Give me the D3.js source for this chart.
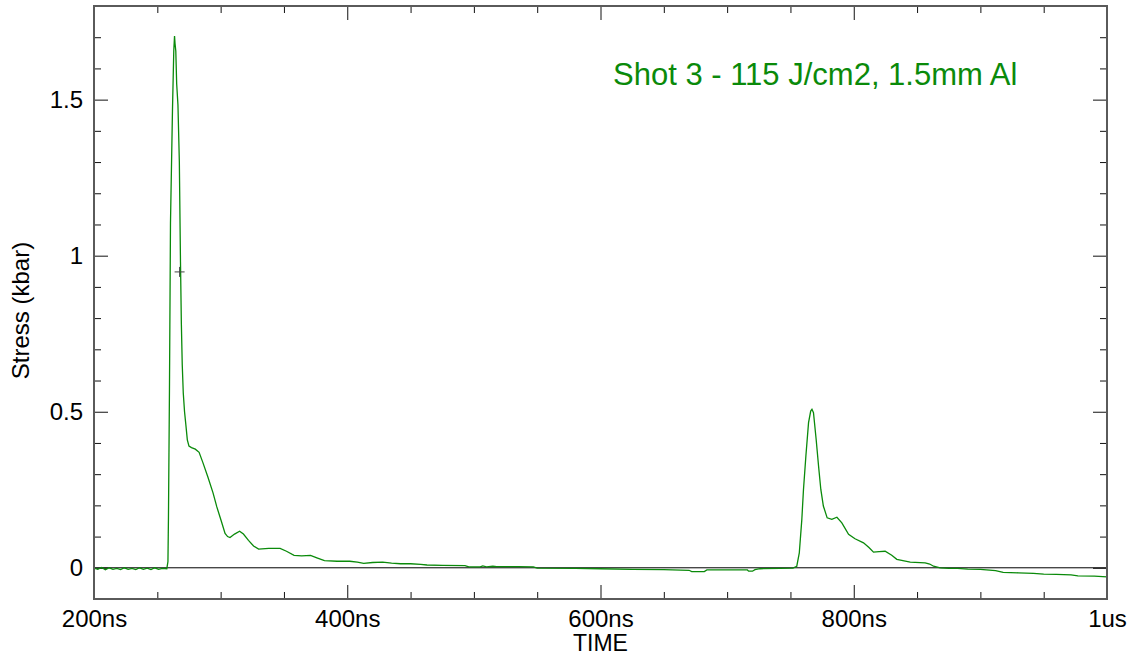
<!DOCTYPE html>
<html>
<head>
<meta charset="utf-8">
<script src="https://cdn.jsdelivr.net/npm/d3@7"></script>
<style>
  body { margin: 0; background: #fff; }
  text { font-family: "Liberation Sans", Arial, sans-serif; }
</style>
</head>
<body>
<div id="chart"></div>
<script>
// trace: time in ns, stress in kbar
var times = [200, 203, 206, 209, 212, 215, 218, 221, 224, 227, 230, 233, 236, 239, 242, 245, 248, 251, 254, 257.5,
  258.4, 258.8, 259.6, 260.4, 262, 263, 263.6, 264, 264.6, 265.3, 266.3, 267.4, 268.3,
  269, 269.7, 270.5, 271.5, 272.5, 273.7, 275, 277, 280, 283, 286, 290, 294, 297,
  300.5, 303.5, 305.5, 307.4, 311, 315, 318, 322, 326, 330, 338, 347, 352, 358,
  364, 371, 376, 382, 392, 402, 408, 413, 420, 428, 435, 442, 450, 458, 463, 475,
  493, 496, 505, 507, 510, 515, 518, 535, 547, 550, 580, 600, 625, 650, 670, 672,
  682, 684, 700, 716, 717, 720, 722, 726, 742, 752, 755, 757, 759, 760.3, 762.2,
  764.3, 766, 767, 768.2, 770.3, 772.2, 774, 776, 779, 782.7, 786.7, 790.6, 795.9,
  801, 807.7, 812, 815.6, 820, 824.8, 830, 834, 844.6, 856.4, 860, 863, 868.3, 875,
  882, 890, 900, 912, 918, 930, 942, 950, 960, 971.6, 977, 990, 1000];

var stress = [-0.001, -0.005, 0.001, -0.006, 0.000, -0.005, -0.002, -0.006, 0.000, -0.005,
  -0.002, -0.006, 0.000, -0.005, -0.001, -0.006, 0.000, -0.005, -0.002, -0.003,
  0.02, 0.161, 0.573, 1.105, 1.472, 1.656, 1.704, 1.68, 1.656, 1.55, 1.483, 1.30, 0.98,
  0.78, 0.65, 0.56, 0.50, 0.46, 0.41, 0.39, 0.385, 0.38, 0.37, 0.337, 0.29, 0.24, 0.195,
  0.15, 0.11, 0.10, 0.097, 0.108, 0.117, 0.108, 0.088, 0.07, 0.06, 0.062, 0.062, 0.053, 0.04,
  0.038, 0.04, 0.032, 0.023, 0.021, 0.021, 0.018, 0.014, 0.017, 0.018, 0.015, 0.013, 0.013, 0.011, 0.009, 0.008,
  0.007, 0.003, 0.003, 0.006, 0.003, 0.005, 0.004, 0.004, 0.003, -0.001, -0.002, -0.003, -0.005, -0.006, -0.008, -0.012,
  -0.012, -0.007, -0.007, -0.007, -0.011, -0.011, -0.006, -0.003, -0.002, -0.001, 0.005, 0.048, 0.155, 0.251, 0.358,
  0.465, 0.502, 0.508, 0.497, 0.412, 0.326, 0.251, 0.198, 0.16, 0.155, 0.162, 0.144, 0.107,
  0.093, 0.08, 0.065, 0.05, 0.052, 0.053, 0.04, 0.027, 0.018, 0.016, 0.012, 0.005, 0.0, -0.002,
  -0.002, -0.004, -0.005, -0.009, -0.015, -0.016, -0.018, -0.02, -0.021, -0.023, -0.026, -0.027, -0.029];

var xMajor = [200, 400, 600, 800, 1000];
var xLabels = ["200ns", "400ns", "600ns", "800ns", "1us"];
var yMajor = [0, 0.5, 1, 1.5];
var yLabels = ["0", "0.5", "1", "1.5"];
var title = "Shot 3 - 115 J/cm2, 1.5mm Al";
var cursorPoint = [267.6, 0.948];   // the little "+" left by the scope cursor

var margin = { top: 6, left: 94, right: 28, bottom: 56 },
    width = 1135 - margin.left - margin.right,
    height = 655 - margin.top - margin.bottom;

var svg = d3.select("#chart")
    .append("svg")
    .attr("width", width + margin.left + margin.right)
    .attr("height", height + margin.top + margin.bottom)
    .append("g")
    .attr("transform", "translate(" + margin.left + "," + margin.top + ")");

var x = d3.scaleLinear().domain([200, 1000]).range([0, width]);
var y = d3.scaleLinear().domain([-0.1, 1.8]).range([height, 0]);

var xMinor = d3.range(250, 1000, 50).filter(function(d) { return d % 200 !== 0; });
var yMinor = d3.range(0, 18).map(function(d) { return d / 10; })
    .filter(function(d) { return Math.round(d * 10) % 5 !== 0; });

function styleAxis(g) {
  g.select(".domain").remove();
  g.selectAll("line").attr("stroke", "#111").attr("stroke-width", 1);
  g.selectAll("text").attr("font-size", "24px").attr("fill", "#000")
    .attr("font-family", "'Liberation Sans', Arial, sans-serif");
}

// major + minor ticks on all four sides, pointing inward
svg.append("g").attr("transform", "translate(0," + height + ")")
    .call(d3.axisBottom(x).tickValues(xMajor).tickSize(-14).tickPadding(11)
      .tickFormat(function(d, i) { return xLabels[i]; }))
    .call(styleAxis);
svg.append("g").attr("transform", "translate(0," + height + ")")
    .call(d3.axisBottom(x).tickValues(xMinor).tickSize(-7).tickFormat(""))
    .call(styleAxis);
svg.append("g")
    .call(d3.axisTop(x).tickValues(xMajor).tickSize(-14).tickFormat(""))
    .call(styleAxis);
svg.append("g")
    .call(d3.axisTop(x).tickValues(xMinor).tickSize(-7).tickFormat(""))
    .call(styleAxis);

svg.append("g")
    .call(d3.axisLeft(y).tickValues(yMajor).tickSize(-14).tickPadding(11)
      .tickFormat(function(d, i) { return yLabels[i]; }))
    .call(styleAxis);
svg.append("g")
    .call(d3.axisLeft(y).tickValues(yMinor).tickSize(-7).tickFormat(""))
    .call(styleAxis);
svg.append("g").attr("transform", "translate(" + width + ",0)")
    .call(d3.axisRight(y).tickValues(yMajor).tickSize(-14).tickFormat(""))
    .call(styleAxis);
svg.append("g").attr("transform", "translate(" + width + ",0)")
    .call(d3.axisRight(y).tickValues(yMinor).tickSize(-7).tickFormat(""))
    .call(styleAxis);

// zero line
svg.append("line")
    .attr("x1", 0).attr("x2", width)
    .attr("y1", y(0)).attr("y2", y(0))
    .attr("stroke", "#000")
    .attr("stroke-width", 1);

var line = d3.line()
    .x(function(d, i) { return x(times[i]); })
    .y(function(d) { return y(d); });

svg.append("path")
    .datum(stress)
    .attr("d", line)
    .attr("fill", "none")
    .attr("stroke", "#0a8a0a")
    .attr("stroke-width", 1.3);

// cursor cross
var cx = x(cursorPoint[0]), cy = y(cursorPoint[1]);
svg.append("path")
    .attr("d", "M" + (cx - 5) + "," + cy + "H" + (cx + 5) + "M" + cx + "," + (cy - 5) + "V" + (cy + 5))
    .attr("stroke", "#444")
    .attr("stroke-width", 1);

// plot frame
svg.append("rect")
    .attr("x", 0).attr("y", 0)
    .attr("width", width).attr("height", height)
    .attr("fill", "none")
    .attr("stroke", "#5a5a5a")
    .attr("stroke-width", 2);

svg.append("text")
    .text(title)
    .attr("x", 519)
    .attr("y", 79)
    .attr("font-size", "31px")
    .attr("fill", "#0a8a0a");

svg.append("text")
    .text("TIME")
    .attr("x", width / 2)
    .attr("y", height + 52)
    .attr("text-anchor", "middle")
    .attr("font-size", "23px")
    .attr("fill", "#000");

svg.append("text")
    .text("Stress (kbar)")
    .attr("transform", "translate(" + (-65) + "," + (height / 2 + 8) + ") rotate(-90)")
    .attr("text-anchor", "middle")
    .attr("font-size", "24px")
    .attr("fill", "#000");
</script>
</body>
</html>
